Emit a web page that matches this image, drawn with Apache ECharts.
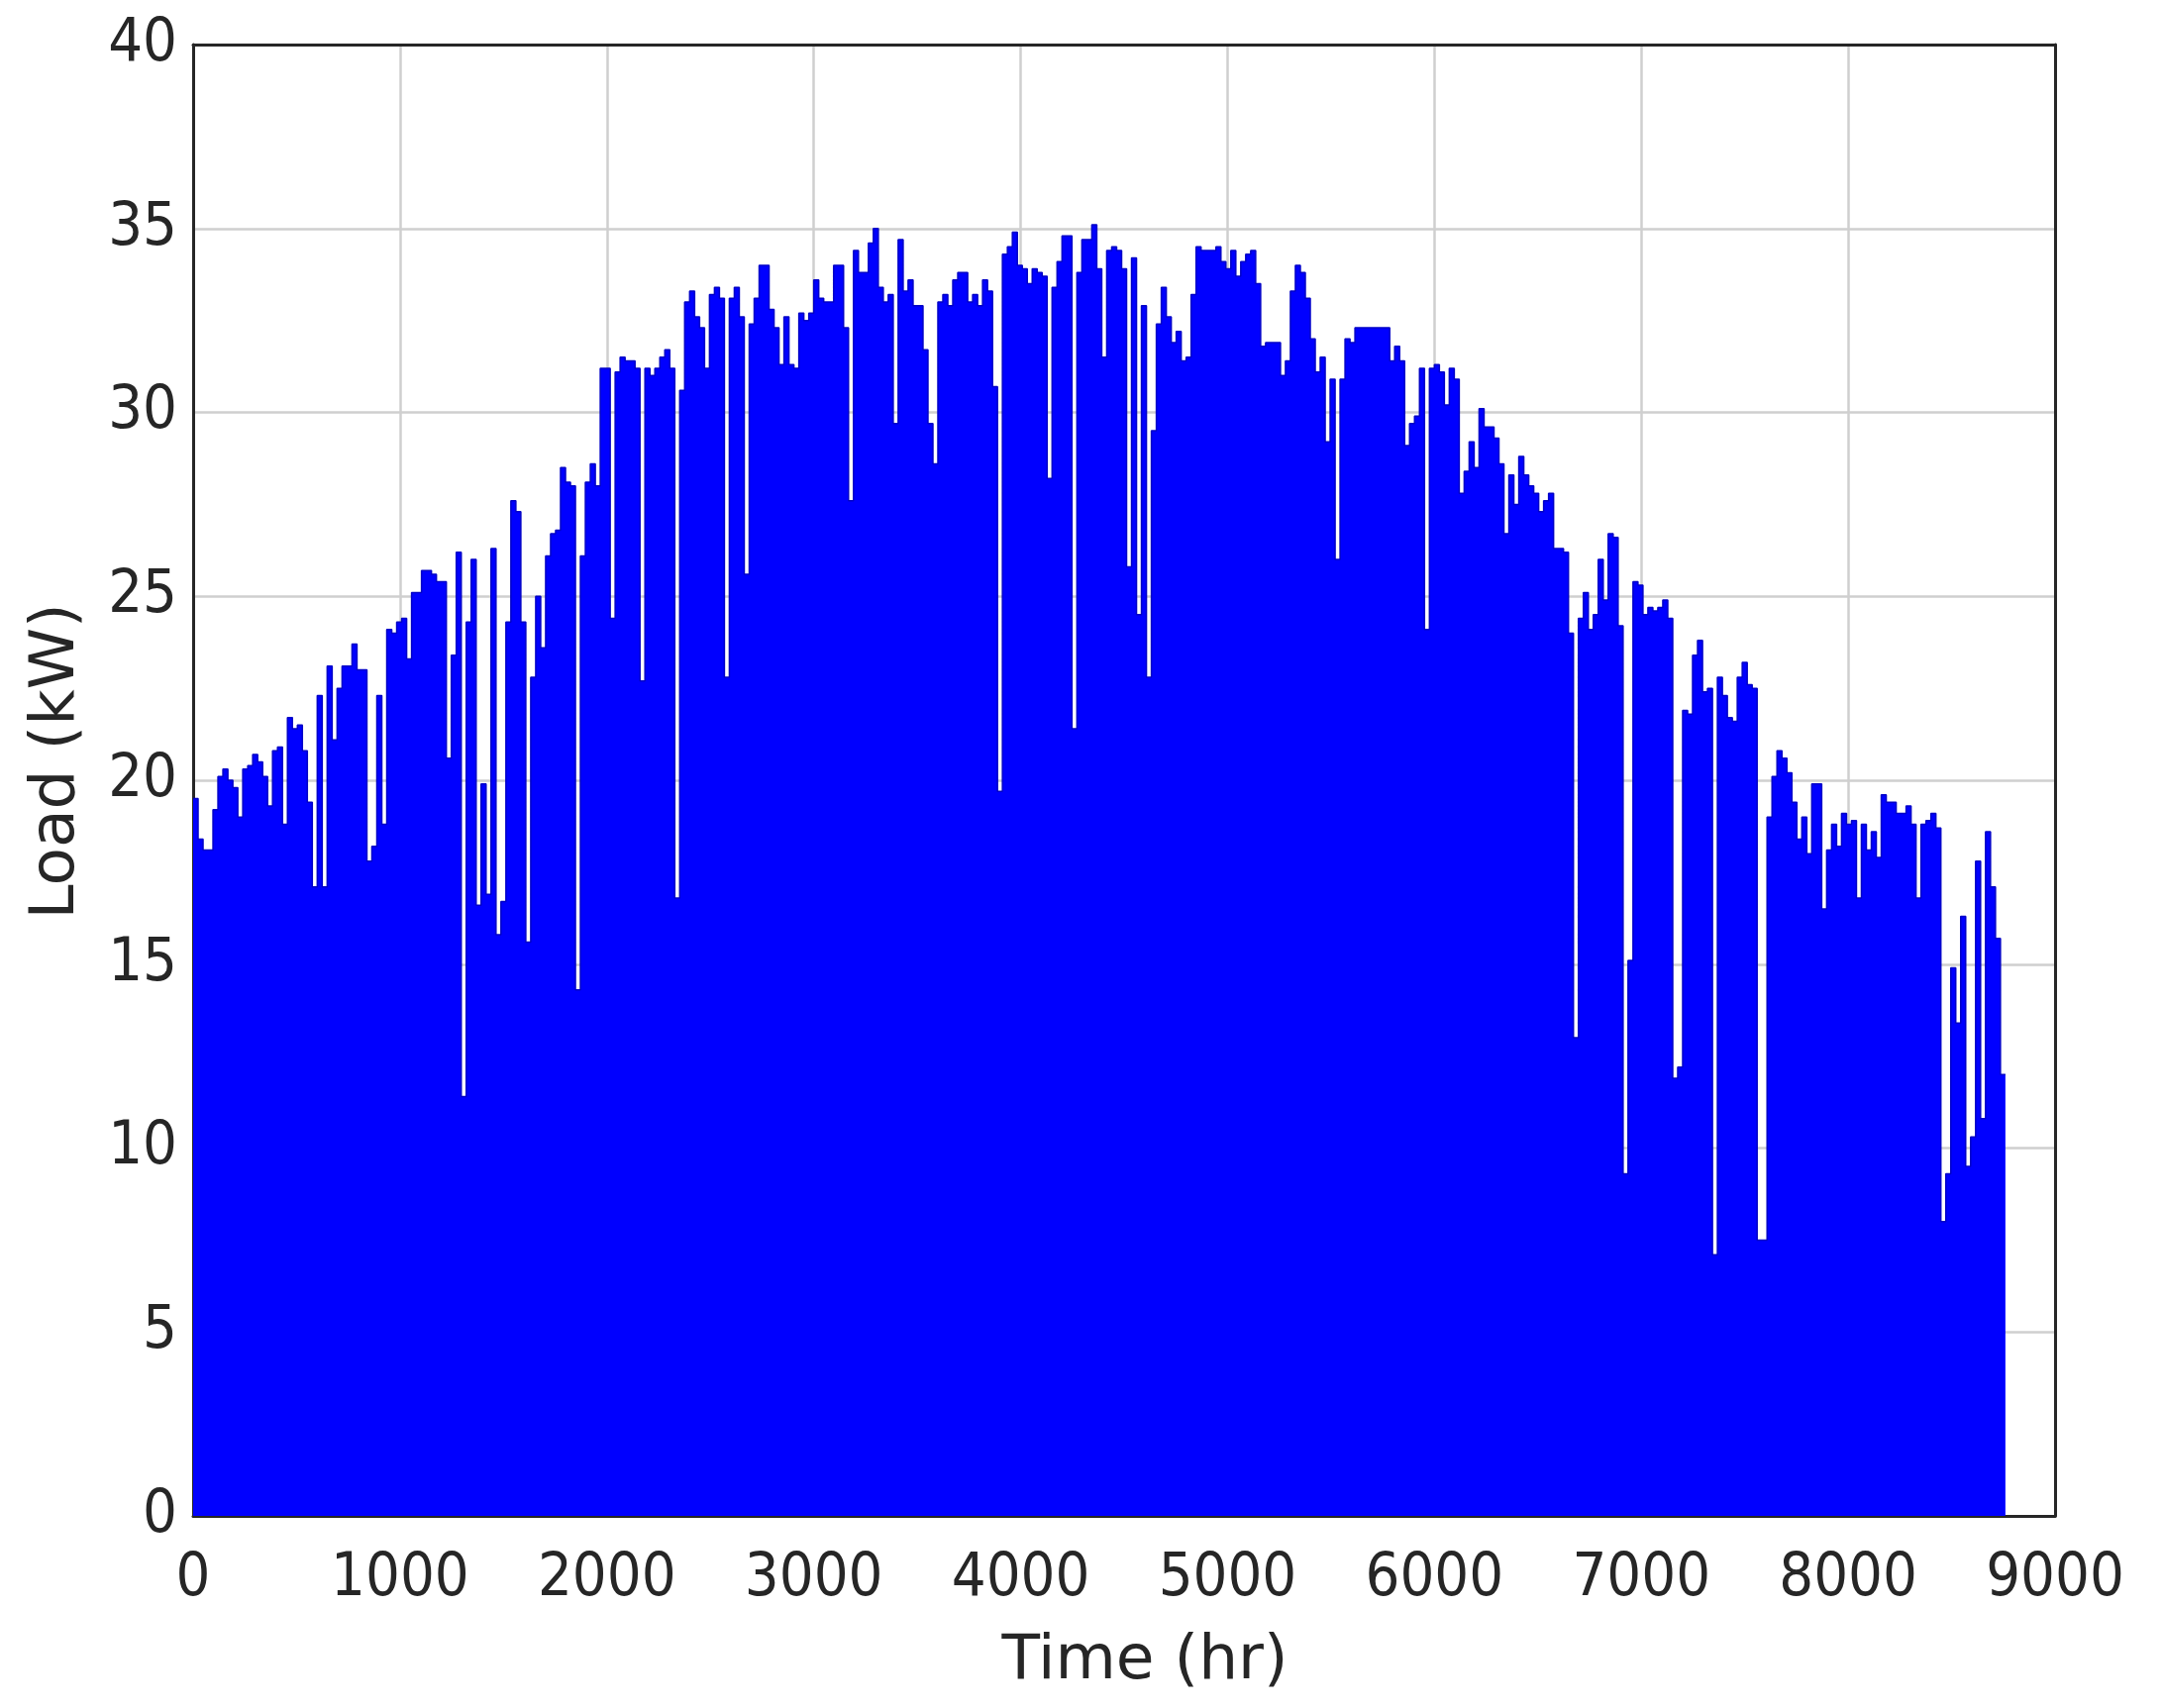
<!DOCTYPE html>
<html>
<head>
<meta charset="utf-8">
<script src="https://cdn.jsdelivr.net/npm/echarts@6/dist/echarts.min.js"></script>
<style>
  html, body { margin: 0; padding: 0; background: #fff; }
  #main { width: 2184px; height: 1725px; }
</style>
</head>
<body>
<div id="main"></div>
<script>
// daily peak load (kW), one value per day
const peaksQ1 = [
  19.5,18.4,18.1,18.1,19.2,20.1,20.3,20.0,19.8,19.0,
  20.3,20.4,20.7,20.5,20.1,19.3,20.8,20.9,18.8,21.7,
  21.4,21.5,20.8,19.4,17.1,22.3,17.1,23.1,21.1,22.5,
  23.1,23.1,23.7,23.0,23.0,17.8,18.2,22.3,18.8,24.1,
  24.0,24.3,24.4,23.3,25.1,25.1,25.7,25.7,25.6,25.4,
  25.4,20.6,23.4,26.2,11.4,24.3,26.0,16.6,19.9,16.9,
  26.3,15.8,16.7,24.3,27.6,27.3,24.3,15.6,22.8,25.0,
  23.6,26.1,26.7,26.8,28.5,28.1,28.0,14.3,26.1,28.1,
  28.6,28.0,31.2,31.2,24.4,31.1,31.5,31.4,31.4,31.2,
  22.7,31.2,31.0
];
const peaksQ2 = [
  31.2,31.5,31.7,31.2,16.8,30.6,33.0,33.3,32.6,32.3,
  31.2,33.2,33.4,33.1,22.8,33.1,33.4,32.6,25.6,32.4,
  33.1,34.0,34.0,32.8,32.3,31.3,32.6,31.3,31.2,32.7,
  32.5,32.7,33.6,33.1,33.0,33.0,34.0,34.0,32.3,27.6,
  34.4,33.8,33.8,34.6,35.0,33.4,33.0,33.2,29.7,34.7,
  33.3,33.6,32.9,32.9,31.7,29.7,28.6,33.0,33.2,32.9,
  33.6,33.8,33.8,33.0,33.2,32.9,33.6,33.3,30.7,19.7,
  34.3,34.5,34.9,34.0,33.9,33.5,33.9,33.8,33.7,28.2,
  33.4,34.1,34.8,34.8,21.4,33.8,34.7,34.7,35.1,33.9,
  31.5,34.4,34.5
];
const peaksQ3 = [
  34.4,33.9,25.8,34.2,24.5,32.9,22.8,29.5,32.4,33.4,
  32.6,31.9,32.2,31.4,31.5,33.2,34.5,34.4,34.4,34.4,
  34.5,34.1,33.9,34.4,33.7,34.1,34.3,34.4,33.5,31.8,
  31.9,31.9,31.9,31.0,31.4,33.3,34.0,33.8,33.1,32.0,
  31.1,31.5,29.2,30.9,26.0,30.9,32.0,31.9,32.3,32.3,
  32.3,32.3,32.3,32.3,32.3,31.4,31.8,31.4,29.1,29.7,
  29.9,31.2,24.1,31.2,31.3,31.1,30.2,31.2,30.9,27.8,
  28.4,29.2,28.5,30.1,29.6,29.6,29.3,28.6,26.7,28.3,
  27.5,28.8,28.3,28.0,27.8,27.3,27.6,27.8,26.3,26.3,
  26.2,24.0,13.0
];
const peaksQ4 = [
  24.4,25.1,24.1,24.5,26.0,24.9,26.7,26.6,24.2,9.3,
  15.1,25.4,25.3,24.5,24.7,24.6,24.7,24.9,24.4,11.9,
  12.2,21.9,21.8,23.4,23.8,22.4,22.5,7.1,22.8,22.3,
  21.7,21.6,22.8,23.2,22.6,22.5,7.5,7.5,19.0,20.1,
  20.8,20.6,20.2,19.4,18.4,19.0,18.0,19.9,19.9,16.5,
  18.1,18.8,18.2,19.1,18.8,18.9,16.8,18.8,18.1,18.6,
  17.9,19.6,19.4,19.4,19.1,19.1,19.3,18.8,16.8,18.8,
  18.9,19.1,18.7,8.0,9.3,14.9,13.4,16.3,9.5,10.3,
  17.8,10.8,18.6,17.1,15.7,12.0
];
const HOURS_PER_DAY = 24;

const peaks = peaksQ1.concat(peaksQ2, peaksQ3, peaksQ4);
let loadData = peaks.map((v, i) => [i * HOURS_PER_DAY, v]);
loadData.push([peaks.length * HOURS_PER_DAY, peaks[peaks.length - 1]]);

const tickFont = '"DejaVu Sans Condensed", "DejaVu Sans", sans-serif';
const titleFont = '"DejaVu Sans", sans-serif';
const ink = '#262626';
const gridGray = '#cfcfcf';

let myChart = echarts.init(document.getElementById('main'));
myChart.setOption({
    animation: false,
    grid: {
        left: 195,
        right: 109,
        top: 45,
        bottom: 194
    },
    xAxis: [{
        type: 'value',
        min: 0,
        max: 9000,
        interval: 1000,
        name: 'Time (hr)',
        nameLocation: 'middle',
        nameGap: 116,
        nameTextStyle: { color: ink, fontSize: 63, fontFamily: titleFont, padding: [0, 0, 0, 42] },
        axisLine: { show: true, lineStyle: { color: ink, width: 3 } },
        axisTick: { show: false },
        axisLabel: { color: ink, fontSize: 61, fontFamily: tickFont, margin: 34, formatter: v => String(v) },
        splitLine: { lineStyle: { color: gridGray, width: 2.5 } }
    }, {
        // top frame line
        type: 'value',
        position: 'top',
        min: 0,
        max: 9000,
        z: 5,
        axisLine: { show: true, onZero: false, lineStyle: { color: ink, width: 3 } },
        axisTick: { show: false },
        axisLabel: { show: false },
        splitLine: { show: false }
    }],
    yAxis: [{
        type: 'value',
        min: 0,
        max: 40,
        interval: 5,
        name: 'Load (kW)',
        nameLocation: 'middle',
        nameGap: 106,
        nameTextStyle: { color: ink, fontSize: 63, fontFamily: titleFont, padding: [0, 0, 0, 38] },
        axisLine: { show: true, lineStyle: { color: ink, width: 3 } },
        axisTick: { show: false },
        axisLabel: { color: ink, fontSize: 61, fontFamily: tickFont, margin: 16 },
        splitLine: { lineStyle: { color: gridGray, width: 2.5 } }
    }, {
        // right frame line
        type: 'value',
        position: 'right',
        min: 0,
        max: 40,
        z: 5,
        axisLine: { show: true, onZero: false, lineStyle: { color: ink, width: 3 } },
        axisTick: { show: false },
        axisLabel: { show: false },
        splitLine: { show: false }
    }],
    series: [{
        name: 'Load',
        type: 'line',
        step: 'end',
        data: loadData,
        showSymbol: false,
        symbol: 'none',
        sampling: null,
        lineStyle: { color: '#0000c8', width: 1.5 },
        areaStyle: { color: '#0000ff', opacity: 1 },
        z: 1
    }]
});
</script>
</body>
</html>
